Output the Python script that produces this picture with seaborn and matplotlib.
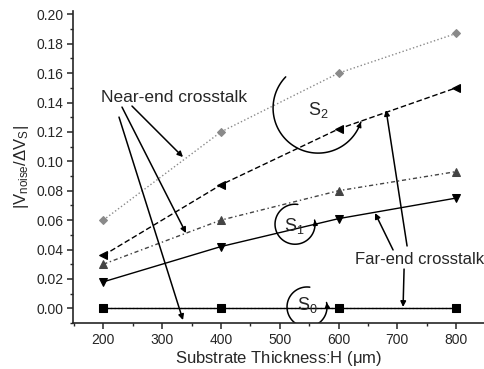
import numpy as np
import pandas as pd
import matplotlib
matplotlib.use("Agg")
import matplotlib.pyplot as plt
from matplotlib.ticker import MultipleLocator, FormatStrFormatter
import seaborn as sns

# Data
thickness = [200, 400, 600, 800]
s2_near = [0.060, 0.120, 0.160, 0.187]
s2_far = [0.036, 0.084, 0.122, 0.150]
s1_near = [0.030, 0.060, 0.080, 0.093]
s1_far = [0.018, 0.042, 0.061, 0.075]
s0_near = [0.000, 0.000, 0.000, 0.000]
s0_far = [0.000, 0.000, 0.000, 0.000]

sns.set_style("ticks")
plt.rcParams["font.family"] = ["Liberation Sans", "DejaVu Sans"]
plt.rcParams["mathtext.fontset"] = "custom"
plt.rcParams["mathtext.rm"] = "Liberation Sans"
plt.rcParams["mathtext.it"] = "Liberation Sans"

fig = plt.figure(figsize=(4.85, 3.69), dpi=100)
ax = fig.add_axes([73 / 485, 46 / 369, 412 / 485, 311.6 / 369])

series = [
    (s2_near, "D", ":", "#8a8a8a", 4.5),
    (s2_far, "<", (0, (4, 2)), "black", 5.5),
    (s1_near, "^", (0, (3, 2, 1, 2)), "#444444", 5.5),
    (s1_far, "v", "-", "black", 6),
    (s0_near, "s", ":", "#888888", 5.5),
    (s0_far, "s", "-", "black", 5.5),
]
for vals, mk, ls, col, ms in series:
    df = pd.DataFrame({"H": thickness, "V": vals})
    sns.lineplot(data=df, x="H", y="V", ax=ax, marker=mk, linestyle=ls,
                 color=col, markersize=ms, markeredgecolor=col, linewidth=1)

ax.set_xlim(148.5, 849)
ax.set_ylim(-0.010, 0.202)
ax.xaxis.set_major_locator(MultipleLocator(100))
ax.xaxis.set_minor_locator(MultipleLocator(50))
ax.yaxis.set_major_locator(MultipleLocator(0.02))
ax.yaxis.set_minor_locator(MultipleLocator(0.01))
ax.yaxis.set_major_formatter(FormatStrFormatter("%.2f"))
ax.set_xticks([200, 300, 400, 500, 600, 700, 800])
ax.tick_params(which="major", direction="out", length=4, width=1.1, labelsize=10, pad=3)
ax.tick_params(which="minor", direction="out", length=2.5, width=1)
sns.despine(ax=ax)
for s in ["left", "bottom"]:
    ax.spines[s].set_linewidth(1.2)

ax.set_xlabel(r"Substrate Thickness:H ($\mu$m)", fontsize=12, labelpad=2)
ax.set_ylabel(r"$\mathregular{|V_{noise}/\Delta V_S|}$", fontsize=12, labelpad=4)

# Annotations
arrow = dict(arrowstyle="-|>", color="black", lw=1.1, mutation_scale=8, shrinkA=0, shrinkB=0)
ax.text(320, 0.1435, "Near-end crosstalk", fontsize=12.5, ha="center", va="center")
for start, end in [((248.8, 0.1376), (335.5, 0.1029)),
                   ((231.8, 0.1369), (340.6, 0.0512)),
                   ((226.7, 0.1301), (335.5, -0.0080))]:
    ax.annotate("", xy=end, xytext=start, arrowprops=arrow)

ax.text(737, 0.0335, "Far-end crosstalk", fontsize=12, ha="center", va="center")
for start, end in [((692.7, 0.0397), (662.0, 0.0648)),
                   ((716.5, 0.0424), (680.8, 0.1349)),
                   ((711.4, 0.0267), (709.7, 0.0009))]:
    ax.annotate("", xy=end, xytext=start, arrowprops=arrow)

ax.text(565, 0.1349, r"$\mathregular{S_2}$", fontsize=13, ha="center", va="center")
ax.text(525, 0.0560, r"$\mathregular{S_1}$", fontsize=13, ha="center", va="center")
ax.text(547, 0.0025, r"$\mathregular{S_0}$", fontsize=13, ha="center", va="center")

# curved loops around each group (radius in pixels, converted to data units)
px_x, px_y = 1 / 0.588, 1 / 1470
for cx, cy, r, t1, t2 in [(565.2, 0.1362, 45, 136, 342),
                          (526.0, 0.0572, 20, 82, 372),
                          (546.4, 0.0009, 20, 82, 373)]:
    t = np.radians(np.linspace(t1, t2, 80))
    xs = cx + r * np.cos(t) * px_x
    ys = cy + r * np.sin(t) * px_y
    ax.plot(xs, ys, color="black", lw=1.1)
    ax.annotate("", xy=(xs[-1], ys[-1]), xytext=(xs[-3], ys[-3]),
                arrowprops=dict(arrowstyle="-|>", color="black", lw=1,
                                mutation_scale=7, shrinkA=0, shrinkB=0))

fig.savefig("out.png", dpi=100)
